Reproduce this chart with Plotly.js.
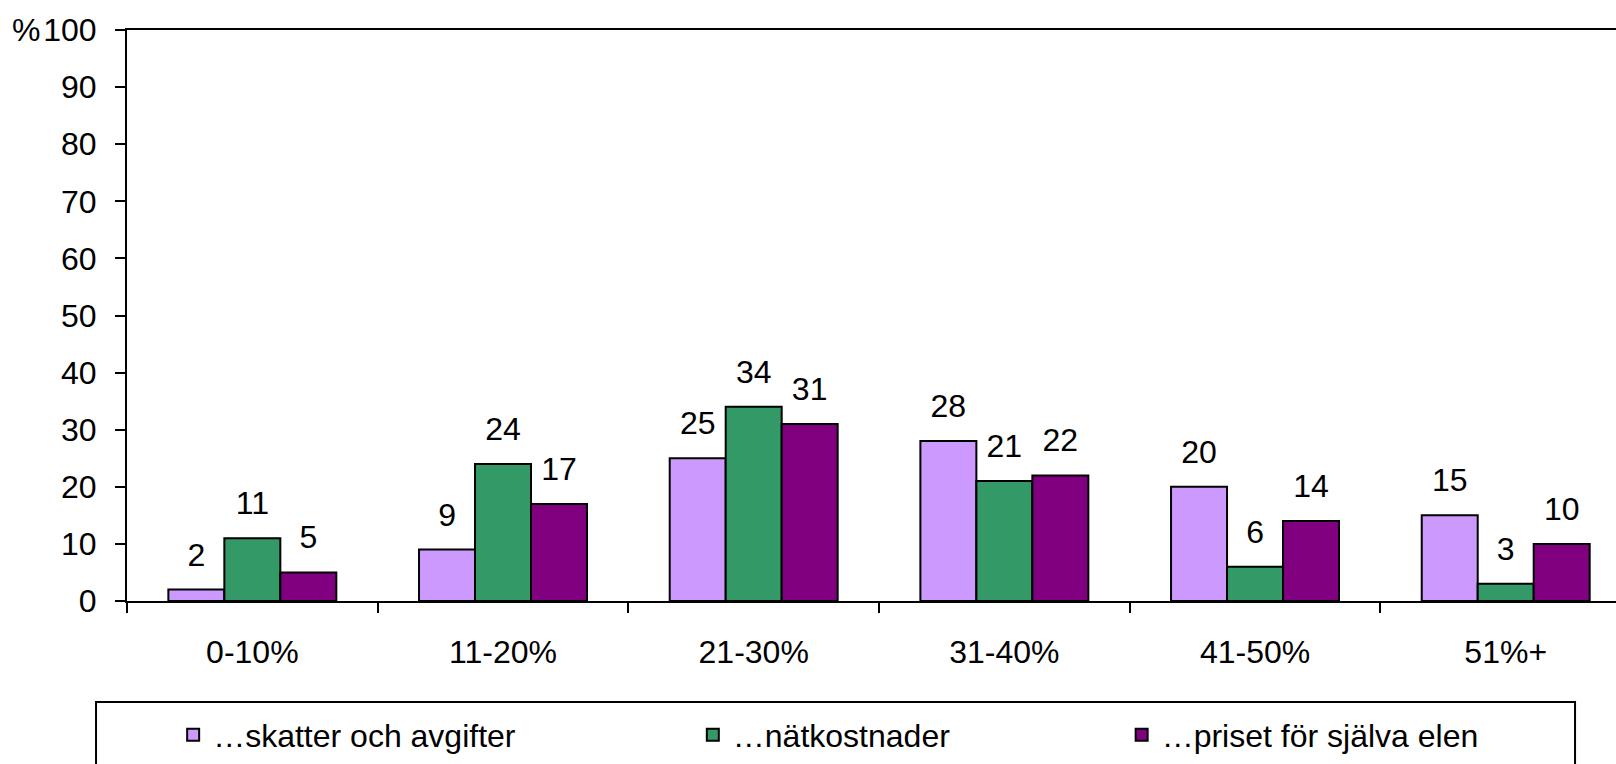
<!DOCTYPE html>
<html>
<head>
<meta charset="utf-8">
<script src="https://cdn.plot.ly/plotly-3.0.1.min.js"></script>
<style>html,body{margin:0;padding:0;background:#fff;overflow:hidden}</style>
</head>
<body>
<div id="chart" style="width:1616px;height:764px"></div>
<script>
const categories = ['0-10%', '11-20%', '21-30%', '31-40%', '41-50%', '51%+'];
const seriesNames = ['…skatter och avgifter', '…nätkostnader', '…priset för själva elen'];
const skatter = [2, 9, 25, 28, 20, 15];
const natkostnader = [11, 24, 34, 21, 6, 3];
const priset = [5, 17, 31, 22, 14, 10];
const yTickVals = [0, 10, 20, 30, 40, 50, 60, 70, 80, 90, 100];
const yTickText = ['0', '10', '20', '30', '40', '50', '60', '70', '80', '90', '100'];

const colors = ['#CC99FF', '#339966', '#800080'];
const values = [skatter, natkostnader, priset];
const legends = ['legend', 'legend2', 'legend3'];
const FONT = 'Liberation Sans, Arial, sans-serif';
const FS = 32;

const traces = [];
values.forEach((v, i) => {
  traces.push({
    type: 'bar', x: categories, y: v, name: seriesNames[i],
    marker: {color: colors[i], line: {color: '#000', width: 2}},
    legend: legends[i], hoverinfo: 'skip'
  });
});
values.forEach((v, i) => {
  traces.push({
    type: 'scatter', mode: 'markers+text', x: categories, y: v,
    text: v.map(String), textposition: 'top center',
    textfont: {family: FONT, size: FS, color: '#000'},
    marker: {size: 24, opacity: 0}, showlegend: false, hoverinfo: 'skip', cliponaxis: false
  });
});

const legendCommon = {
  orientation: 'h', yanchor: 'middle', xanchor: 'left', y: -0.2347,
  font: {family: FONT, size: FS, color: '#000'}, bgcolor: 'rgba(0,0,0,0)', borderwidth: 0
};

const layout = {
  width: 1616, height: 764,
  margin: {l: 127, r: 0, t: 30, b: 163},
  paper_bgcolor: '#fff', plot_bgcolor: '#fff',
  barmode: 'group', bargap: 0.33, bargroupgap: 0,
  scattermode: 'group', scattergap: 0.33,
  font: {family: FONT, size: FS, color: '#000'},
  xaxis: {
    type: 'category', range: [-0.5, 5.44], showgrid: false, zeroline: false,
    showline: true, linecolor: '#000', linewidth: 2, mirror: true,
    ticks: 'outside', tickson: 'boundaries', ticklen: 10, tickwidth: 2, tickcolor: '#000',
    ticklabelstandoff: 22,
    tickfont: {family: FONT, size: FS, color: '#000'}
  },
  yaxis: {
    range: [0, 100], showgrid: false, zeroline: false,
    showline: true, linecolor: '#000', linewidth: 2, mirror: true,
    ticks: 'outside', ticklen: 10, tickwidth: 2, tickcolor: '#000',
    tickvals: yTickVals, ticktext: yTickText, ticklabelstandoff: 12,
    tickfont: {family: FONT, size: FS, color: '#000'}
  },
  legend: Object.assign({}, legendCommon, {x: 0.031}),
  legend2: Object.assign({}, legendCommon, {x: 0.380}),
  legend3: Object.assign({}, legendCommon, {x: 0.668}),
  shapes: [{
    type: 'rect', xref: 'paper', yref: 'paper',
    x0: -0.0208, x1: 0.9725, y0: -0.3485, y1: -0.1769,
    line: {color: '#000', width: 2}, fillcolor: 'rgba(0,0,0,0)'
  }],
  annotations: [{
    text: '%', xref: 'paper', yref: 'y', x: -0.0571, y: 100,
    xanchor: 'right', yanchor: 'middle', showarrow: false,
    font: {family: FONT, size: FS, color: '#000'}
  }]
};

Plotly.newPlot('chart', traces, layout, {displayModeBar: false, staticPlot: true});
</script>
</body>
</html>
